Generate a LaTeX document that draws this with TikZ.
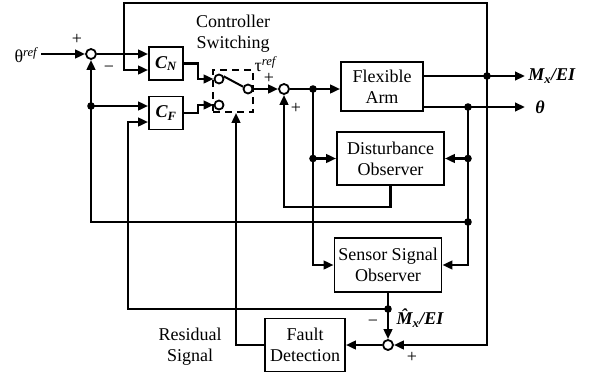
\documentclass[tikz,border=0pt]{standalone}
\usepackage{fontspec}
\setmainfont{Liberation Serif}
\usetikzlibrary{arrows.meta}

\begin{document}
\begin{tikzpicture}[x=1pt, y=-1pt, line width=2.6pt, >={Triangle[length=10pt,width=8.5pt]},
	every node/.style={font=\fontsize{18}{21}\selectfont},
	block/.style={draw, line width=1.8pt, align=center, inner sep=0pt},
	sumnode/.style={circle, draw, line width=1.8pt, fill=white, minimum size=10pt, inner sep=0pt},
	contact/.style={circle, draw, line width=1.8pt, fill=white, minimum size=9pt, inner sep=0pt},
	sign/.style={inner sep=0pt}]
	\useasboundingbox (0,0) rectangle (589,380);
	% blocks
	\node[block, minimum width=34pt, minimum height=33pt] (cn) at (166,63.5) {\textbf{\textit{C\textsubscript{N}}}};
	\node[block, minimum width=34pt, minimum height=33pt] (cf) at (166,113) {\textbf{\textit{C\textsubscript{F}}}};
	\node[block, minimum width=82pt, minimum height=49pt] (arm) at (382,86.5) {Flexible\\Arm};
	\node[block, minimum width=107pt, minimum height=53pt] (dob) at (390.5,158.5) {Disturbance\\Observer};
	\node[block, minimum width=107pt, minimum height=54pt] (sob) at (388,265) {Sensor Signal\\Observer};
	\node[block, minimum width=80pt, minimum height=53pt] (fd) at (305,345) {Fault\\Detection};
	% switch
	\node[draw, line width=1.8pt, dash pattern=on 7pt off 5pt, minimum width=40pt, minimum height=42pt] (swbox) at (233,91) {};
	\node[contact] (a1) at (219,79) {};
	\node[contact] (a2) at (219,105) {};
	\node[contact] (sw) at (248,89) {};
	% summing points
	\node[sumnode] (s1) at (91,54) {};
	\node[sumnode] (s2) at (284,89) {};
	\node[sumnode] (s4) at (388,345) {};
	% labels
	\node[anchor=east, inner sep=1pt] (thref) at (41,55) {θ\textsuperscript{\textit{ref}}};
	\node[anchor=west, inner sep=2pt] (mx) at (525,76) {\textbf{\textit{M\textsubscript{x}/EI}}};
	\node[anchor=west, inner xsep=9pt] (thout) at (525,107) {\textbf{\textit{θ}}};
	\node[align=center] (csw) at (233,34) {Controller\\Switching};
	\node (tau) at (266,64) {τ\textsuperscript{\textit{ref}}};
	\node[anchor=west] (mhat) at (392,318) {\textbf{\textit{\^{M}\textsubscript{x}/EI}}};
	\node[align=center] (res) at (190,347) {Residual\\Signal};
	\node[sign] (p1) at (77,39) {+};
	\node[sign] (m1) at (109,69) {−};
	\node[sign] (p2) at (269,78) {+};
	\node[sign] (p3) at (296,108) {+};
	\node[sign] (m4) at (373,323) {−};
	\node[sign] (p4) at (412,357) {+};
	% junctions
	\coordinate (top) at (124,3);
	\coordinate (jm) at (487,76);
	\coordinate (jt) at (468,107);
	\coordinate (jd) at (313,89);
	\coordinate (jdd) at (313,158.5);
	\coordinate (jdo) at (468,158.5);
	\coordinate (jf) at (468,222);
	\coordinate (jc) at (91,106);
	\coordinate (jh) at (388,309);
	\coordinate (cnlow) at ([yshift=-6.5pt]cn.west);
	\coordinate (cflow) at ([yshift=-9pt]cf.west);
	% signals
	\draw[->] (thref.east |- s1) -- (s1);
	\draw[->] (s1) -- (s1 -| cn.west);
	\draw[->] (jm) -- (jm |- top) -- (top) |- (cnlow);
	\draw[->] (cn.east) -- ++(14,0) |- (a1);
	\draw[->] (cf.east) -- ++(14,0) |- (a2);
	\draw[line width=2pt] (a1.30) -- (sw.155);
	\draw[->] (sw) -- (s2);
	\draw[->] (s2) -- (s2 -| arm.west);
	\draw[->] (arm.east |- mx) -- (mx);
	\draw[->] (arm.east |- thout) -- (thout.west);
	\draw[->] (jm) |- (s4);
	\draw[->] (jt) |- (sob);
	\draw[->] (jdo) -- (dob);
	\draw[->] (jf) -| (s1);
	\draw[->] (jc) -- (jc -| cf.west);
	\draw[->] (jd) |- (sob);
	\draw[->] (jdd) -- (dob);
	\draw[->] (dob.south) -- ++(0,21) -| (s2);
	\draw[->] (sob) -- (s4);
	\draw[->] (jh) -| ([xshift=-20pt]cflow) -- (cflow);
	\draw[->] (s4) -- (s4 -| fd.east);
	\draw[->] (fd) -| ([xshift=3pt]swbox.south);
	\foreach \j in {jm,jt,jd,jdd,jdo,jf,jc,jh} {\fill (\j) circle (3.8pt);}
\end{tikzpicture}
\end{document}
